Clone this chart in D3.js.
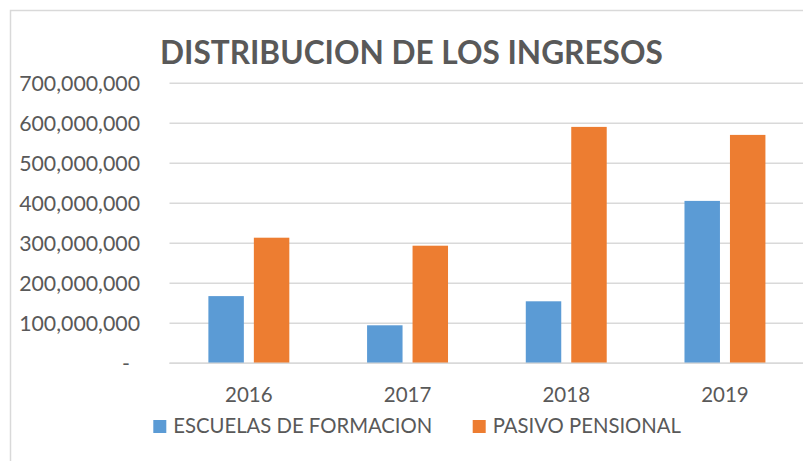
<!DOCTYPE html>
<html>
<head>
<meta charset="utf-8">
<script src="https://cdn.jsdelivr.net/npm/d3@7"></script>
<style>
  html, body { margin: 0; padding: 0; background: #fff; }
  svg { display: block; font-family: Lato, "Open Sans", sans-serif; }
</style>
</head>
<body>
<div id="chart"></div>
<script>
// data
const years = ["2016", "2017", "2018", "2019"];
const seriesNames = ["ESCUELAS DE FORMACION", "PASIVO PENSIONAL"];
const escuelas = [168000000, 95000000, 155000000, 406000000];
const pasivo = [314000000, 294000000, 591000000, 571000000];
const yTicks = [0, 100000000, 200000000, 300000000, 400000000, 500000000, 600000000, 700000000];
const title = "DISTRIBUCION DE LOS INGRESOS";

const W = 803, Ht = 461;
const colors = ["#5B9BD5", "#ED7D31"];
const ink = "#595959", gridC = "#D9D9D9";

const svg = d3.select("#chart").append("svg").attr("width", W).attr("height", Ht);

// chart frame (runs off the right/bottom edge like the cropped original)
svg.append("rect").attr("x", 10.5).attr("y", 10.5).attr("width", W + 20).attr("height", Ht + 20)
  .attr("fill", "#fff").attr("stroke", gridC).attr("stroke-width", 1.5);

const x0 = d3.scaleBand().domain(years).range([169.5, 804.3]).paddingInner(0.49).paddingOuter(0.245);
const x1 = d3.scaleBand().domain(seriesNames).range([0, x0.bandwidth()]).paddingInner(0.22);
const y = d3.scaleLinear().domain([0, 700000000]).range([363.3, 83.3]);

// gridlines
svg.append("g").selectAll("line").data(yTicks).join("line")
  .attr("x1", 169.5).attr("x2", W)
  .attr("y1", d => y(d)).attr("y2", d => y(d))
  .attr("stroke", gridC).attr("stroke-width", 1.5);

// y labels
const fmt = d3.format(",");
svg.append("g").selectAll("text").data(yTicks).join("text")
  .attr("x", d => d === 0 ? 130 : 140)
  .attr("y", d => y(d))
  .attr("dy", "0.36em")
  .attr("text-anchor", "end")
  .attr("fill", ink)
  .attr("font-size", 21.3)
  .text(d => d === 0 ? "-" : fmt(d));

// bars
const rows = years.map((yr, i) => ({ yr, vals: [escuelas[i], pasivo[i]] }));
svg.append("g").selectAll("g").data(rows).join("g")
  .attr("transform", d => `translate(${x0(d.yr)},0)`)
  .selectAll("rect").data(d => d.vals.map((v, k) => ({ k, v }))).join("rect")
  .attr("x", d => x1(seriesNames[d.k]))
  .attr("y", d => y(d.v))
  .attr("width", x1.bandwidth())
  .attr("height", d => y(0) - y(d.v))
  .attr("fill", d => colors[d.k]);

// baseline over bars
svg.append("line").attr("x1", 169.5).attr("x2", W).attr("y1", y(0)).attr("y2", y(0))
  .attr("stroke", gridC).attr("stroke-width", 1.5);

// x labels
svg.append("g").selectAll("text").data(years).join("text")
  .attr("x", d => x0(d) + x0.bandwidth() / 2)
  .attr("y", 402.3)
  .attr("text-anchor", "middle")
  .attr("fill", ink)
  .attr("font-size", 20.5)
  .text(d => d);

// title
svg.append("text").attr("x", 160).attr("y", 64)
  .attr("fill", ink).attr("font-size", 31.6).attr("font-weight", "bold")
  .text(title);

// legend
const legX = [153.3, 472.7];
const leg = svg.append("g").selectAll("g").data(seriesNames).join("g")
  .attr("transform", (d, i) => `translate(${legX[i]},0)`);
leg.append("rect").attr("x", 0).attr("y", 420).attr("width", 13).attr("height", 13)
  .attr("fill", (d, i) => colors[i]);
leg.append("text").attr("x", 20).attr("y", 433.3)
  .attr("fill", ink).attr("font-size", 20.3)
  .text(d => d);
</script>
</body>
</html>
